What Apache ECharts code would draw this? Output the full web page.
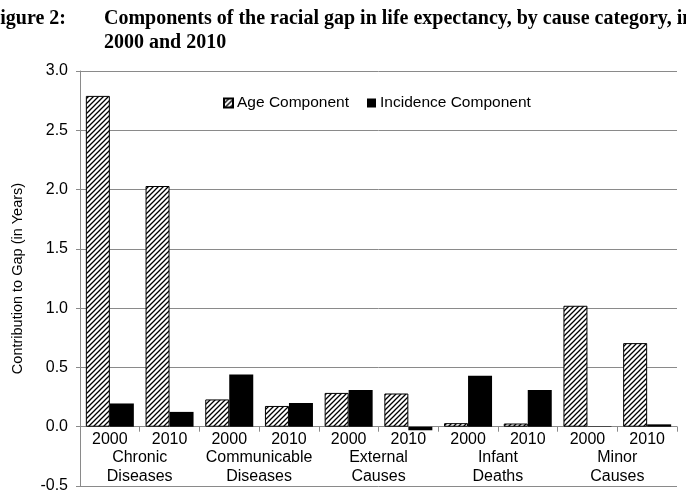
<!DOCTYPE html>
<html>
<head>
<meta charset="utf-8">
<style>
  html, body { margin: 0; padding: 0; background: #fff; }
  #main { width: 686px; height: 498px; }
</style>
<script src="https://cdn.jsdelivr.net/npm/echarts@6/dist/echarts.min.js"></script>
</head>
<body>
<div id="main"></div>
<script>
// 数据
var years = ['2000', '2010', '2000', '2010', '2000', '2010', '2000', '2010', '2000', '2010'];
var groups = ['Chronic\nDiseases', 'Communicable\nDiseases', 'External\nCauses', 'Infant\nDeaths', 'Minor\nCauses'];
var ageComponent = [2.79, 2.03, 0.23, 0.175, 0.285, 0.28, 0.03, 0.027, 1.02, 0.705];
var incidenceComponent = [0.196, 0.125, 0.44, 0.20, 0.31, -0.03, 0.43, 0.31, 0.004, 0.02];

// 斜线填充
function hatch() {
    var s = 5;
    var c = document.createElement('canvas');
    c.width = s; c.height = s;
    var ctx = c.getContext('2d');
    ctx.fillStyle = '#fff';
    ctx.fillRect(0, 0, s, s);
    ctx.strokeStyle = '#000';
    ctx.lineWidth = 1.3;
    ctx.beginPath();
    ctx.moveTo(0, s); ctx.lineTo(s, 0);
    ctx.moveTo(-1, 1); ctx.lineTo(1, -1);
    ctx.moveTo(s - 1, s + 1); ctx.lineTo(s + 1, s - 1);
    ctx.stroke();
    return c;
}

var font = 'Liberation Sans, Arial, sans-serif';
var serif = 'bold 20px "Liberation Serif", "Times New Roman", serif';
var grey = '#8a8a8a';

var myChart = echarts.init(document.getElementById('main'));
myChart.setOption({
    animation: false,
    textStyle: { fontFamily: font, color: '#000' },
    graphic: [
        { type: 'text', x: -12, y: 19, style: { text: 'Figure 2:', font: serif, fill: '#000', verticalAlign: 'middle' } },
        { type: 'text', x: 104, y: 19, style: { text: 'Components of the racial gap in life expectancy, by cause category, in', font: serif, fill: '#000', verticalAlign: 'middle' } },
        { type: 'text', x: 104, y: 43, style: { text: '2000 and 2010', font: serif, fill: '#000', verticalAlign: 'middle' } }
    ],
    legend: {
        data: ['Age Component', 'Incidence Component'],
        left: 218,
        top: 90,
        icon: 'rect',
        itemWidth: 9,
        itemHeight: 9,
        itemGap: 18,
        textStyle: { fontSize: 15.5, color: '#000', fontFamily: font, padding: [0, 0, 0, -1] }
    },
    grid: { left: 80, right: 9, top: 71, bottom: 12, containLabel: false },
    xAxis: [
        {
            type: 'category',
            data: years,
            position: 'bottom',
            offset: -59.3,
            axisLine: { onZero: false, lineStyle: { color: grey } },
            axisTick: { show: true, length: 5, lineStyle: { color: grey } },
            axisLabel: { fontSize: 16, color: '#000', margin: 5, interval: 0 }
        },
        {
            type: 'category',
            data: groups,
            position: 'bottom',
            offset: -59.3,
            axisLine: { show: false, onZero: false },
            axisTick: { show: false },
            axisLabel: { margin: 21, fontSize: 16, lineHeight: 19, color: '#000', interval: 0 }
        }
    ],
    yAxis: {
        type: 'value',
        min: -0.5,
        max: 3.0,
        interval: 0.5,
        name: 'Contribution to Gap (in Years)',
        nameLocation: 'middle',
        nameGap: 55,
        nameTextStyle: { fontSize: 14.5, color: '#000' },
        axisLine: { show: true, lineStyle: { color: grey } },
        axisTick: { show: true, length: 4, lineStyle: { color: grey } },
        axisLabel: { fontSize: 16, color: '#000', margin: 12, formatter: function (v) { return v.toFixed(1); } },
        splitLine: { lineStyle: { color: grey } }
    },
    series: [
        {
            name: 'Age Component',
            type: 'bar',
            xAxisIndex: 0,
            data: ageComponent,
            barWidth: 24,
            barGap: '0%',
            itemStyle: { color: { image: hatch(), repeat: 'repeat' }, borderColor: '#000', borderWidth: 1 }
        },
        {
            name: 'Incidence Component',
            type: 'bar',
            xAxisIndex: 0,
            data: incidenceComponent,
            barWidth: 24,
            barGap: '0%',
            itemStyle: { color: '#000' }
        }
    ]
});
</script>
</body>
</html>
